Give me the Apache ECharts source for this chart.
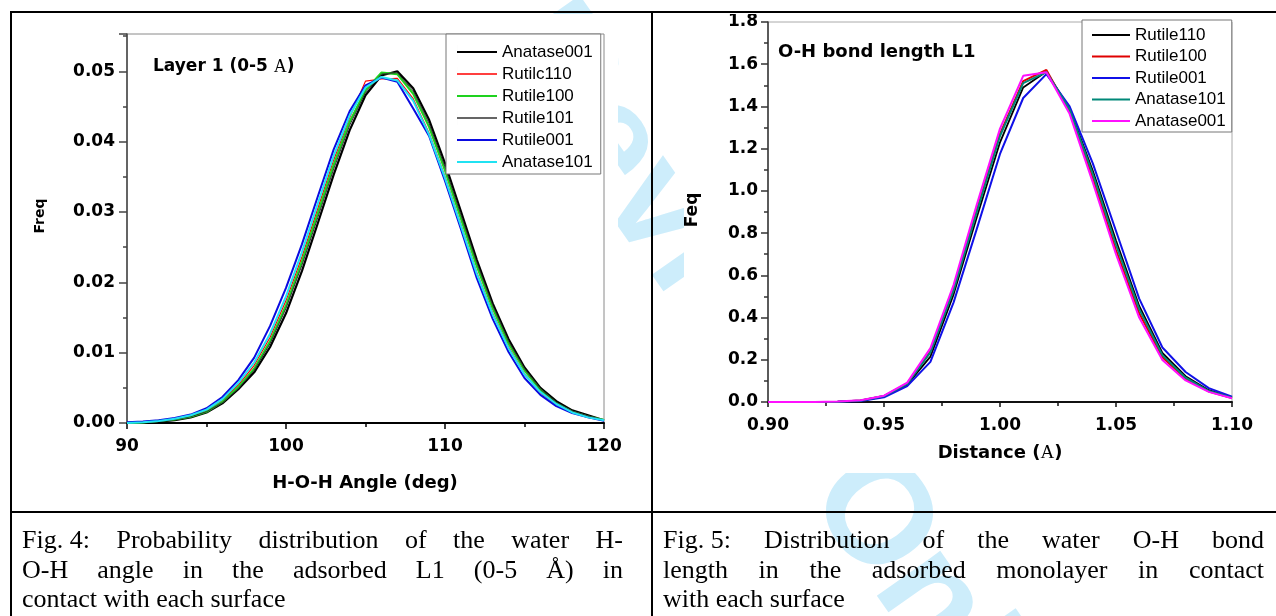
<!DOCTYPE html>
<html>
<head>
<meta charset="utf-8">
<script src="https://cdn.jsdelivr.net/npm/echarts@6/dist/echarts.min.js"></script>
<style>
  html, body { margin: 0; padding: 0; background: #fff; }
  #page { position: relative; width: 1276px; height: 616px; overflow: hidden; }
  #bg { position: absolute; left: 0; top: 0; width: 1276px; height: 616px; }
  /* white only where the pasted figure image was, the rest lets the watermark through */
  #fig4 { position: absolute; left: 13px; top: 14px; width: 617px; height: 497px;
    background: linear-gradient(to right, #fff 605px, transparent 605px); }
  #fig5 { position: absolute; left: 684px; top: 14px; width: 592px; height: 459px; background: #fff; }
  .caption { position: absolute; top: 525px; width: 601px; font-family: 'Liberation Serif', 'Times New Roman', serif; font-size: 26px; line-height: 29.5px; color: #000; }
  .caption div { white-space: nowrap; }
  .caption .just { text-align: justify; text-align-last: justify; }
  .caption .fig { display: inline-block; }
</style>
</head>
<body>
<div id="page">
  <div id="bg"></div>
  <div id="fig4"></div>
  <div id="fig5"></div>
  <div class="caption" style="left: 22px;">
    <div class="just"><span class="fig">Fig. 4:</span> Probability distribution of the water H-</div>
    <div class="just">O-H angle in the adsorbed L1 (0-5 Å) in</div>
    <div>contact with each surface</div>
  </div>
  <div class="caption" style="left: 663px;">
    <div class="just"><span class="fig">Fig. 5:</span> Distribution of the water O-H bond</div>
    <div class="just">length in the adsorbed monolayer in contact</div>
    <div>with each surface</div>
  </div>
</div>
<script>
// Fig. 4 - H-O-H angle (deg), one point per degree
const angleX = [90, 91, 92, 93, 94, 95, 96, 97, 98, 99, 100, 101, 102, 103, 104, 105,
  106, 107, 108, 109, 110, 111, 112, 113, 114, 115, 116, 117, 118, 119, 120]
const anatase001A = [0.0000, 0.0001, 0.0002, 0.0004, 0.0008, 0.0015, 0.0028, 0.0048, 0.0072, 0.0108, 0.0156,
  0.0216, 0.0284, 0.0353, 0.0416, 0.0466, 0.0494, 0.0500, 0.0476, 0.0431, 0.0369,
  0.0301, 0.0232, 0.0170, 0.0119, 0.0079, 0.0050, 0.0031, 0.0018, 0.0011, 0.0004]
const rutilc110A = [0.0000, 0.0001, 0.0003, 0.0005, 0.0010, 0.0018, 0.0032, 0.0054, 0.0082, 0.0122, 0.0174,
  0.0236, 0.0305, 0.0374, 0.0434, 0.0486, 0.0489, 0.0490, 0.0461, 0.0412, 0.0350,
  0.0282, 0.0214, 0.0156, 0.0108, 0.0070, 0.0043, 0.0026, 0.0015, 0.0008, 0.0004]
const rutile100A = [0.0000, 0.0001, 0.0003, 0.0005, 0.0009, 0.0016, 0.0030, 0.0051, 0.0077, 0.0116, 0.0167,
  0.0229, 0.0298, 0.0367, 0.0428, 0.0473, 0.0498, 0.0496, 0.0468, 0.0421, 0.0359,
  0.0291, 0.0223, 0.0163, 0.0113, 0.0075, 0.0047, 0.0028, 0.0016, 0.0009, 0.0004]
const rutile101A = [0.0000, 0.0001, 0.0002, 0.0005, 0.0009, 0.0016, 0.0029, 0.0049, 0.0075, 0.0113, 0.0163,
  0.0224, 0.0292, 0.0361, 0.0423, 0.0470, 0.0496, 0.0498, 0.0472, 0.0426, 0.0364,
  0.0296, 0.0228, 0.0167, 0.0116, 0.0077, 0.0048, 0.0029, 0.0017, 0.0010, 0.0004]
const rutile001A = [0.0001, 0.0002, 0.0004, 0.0007, 0.0012, 0.0021, 0.0037, 0.0061, 0.0093, 0.0138, 0.0192,
  0.0254, 0.0322, 0.0389, 0.0443, 0.0480, 0.0491, 0.0485, 0.0447, 0.0408, 0.0344,
  0.0276, 0.0206, 0.0148, 0.0101, 0.0064, 0.0040, 0.0024, 0.0014, 0.0008, 0.0003]
const anatase101A = [0.0000, 0.0001, 0.0003, 0.0006, 0.0011, 0.0019, 0.0034, 0.0057, 0.0086, 0.0127, 0.0180,
  0.0243, 0.0312, 0.0380, 0.0437, 0.0477, 0.0492, 0.0487, 0.0458, 0.0410, 0.0348,
  0.0280, 0.0212, 0.0154, 0.0106, 0.0069, 0.0044, 0.0027, 0.0015, 0.0008, 0.0004]

// Fig. 5 - O-H distance (A), one point per 0.01
const distX = [0.90, 0.91, 0.92, 0.93, 0.94, 0.95, 0.96, 0.97, 0.98, 0.99, 1.00,
  1.01, 1.02, 1.03, 1.04, 1.05, 1.06, 1.07, 1.08, 1.09, 1.10]
const rutile110D = [0, 0, 0, 0.001, 0.006, 0.026, 0.082, 0.215, 0.510, 0.875, 1.230,
  1.490, 1.565, 1.390, 1.095, 0.765, 0.455, 0.233, 0.122, 0.056, 0.022]
const rutile100D = [0, 0, 0, 0.001, 0.007, 0.028, 0.088, 0.240, 0.535, 0.910, 1.270,
  1.520, 1.573, 1.375, 1.060, 0.720, 0.420, 0.212, 0.110, 0.050, 0.019]
const rutile001D = [0, 0, 0, 0.001, 0.005, 0.022, 0.075, 0.190, 0.472, 0.820, 1.175,
  1.440, 1.553, 1.400, 1.130, 0.810, 0.490, 0.258, 0.142, 0.066, 0.025]
const anatase101D = [0, 0, 0, 0.001, 0.007, 0.028, 0.086, 0.235, 0.530, 0.900, 1.260,
  1.510, 1.563, 1.385, 1.080, 0.745, 0.440, 0.222, 0.115, 0.052, 0.020]
const anatase001D = [0, 0, 0, 0.002, 0.008, 0.030, 0.092, 0.255, 0.555, 0.935, 1.295,
  1.545, 1.562, 1.365, 1.040, 0.700, 0.400, 0.199, 0.102, 0.048, 0.018]

const tickFont = { fontFamily: 'DejaVu Sans', fontWeight: 'bold', fontSize: 17, color: '#000' }

// legend icons: plain line, the 0.01 wide sliver only keeps the box 14px tall
const iconThick = 'path://M0,0h0.01v14h-0.01zM0,5.9h40v2.2h-40z'
const iconThin = 'path://M0,0h0.01v14h-0.01zM0,6.3h40v1.4h-40z'

function initSeries(name, xs, ys, color, width) {
  return {
    name,
    type: 'line',
    data: xs.map((x, i) => [x, ys[i]]),
    symbol: 'none',
    color,
    lineStyle: { color, width },
    animation: false
  }
}

function valueAxis(min, max, interval, digits, lineColor, tickLen, margin) {
  return {
    type: 'value',
    min,
    max,
    interval,
    axisLine: { show: true, onZero: false, lineStyle: { color: lineColor, width: 2 } },
    axisTick: { show: true, inside: false, length: tickLen, lineStyle: { color: lineColor, width: 1.5 } },
    minorTick: { show: true, splitNumber: 2, length: 4, lineStyle: { color: lineColor, width: 1.5 } },
    axisLabel: Object.assign({ margin, formatter: v => v.toFixed(digits) }, tickFont),
    splitLine: { show: false }
  }
}

// background page: table rules + review watermark
const bg = echarts.init(document.getElementById('bg'))
bg.setOption({
  animation: false,
  graphic: [
    {
      type: 'text', x: 159, y: -500, rotation: -55 * Math.PI / 180, z: 0,
      style: { text: 'For Peer Review Only', fill: '#cdedfb', font: 'bold 147px "Liberation Sans"', align: 'left', verticalAlign: 'middle' }
    },
    { type: 'line', shape: { x1: 10, y1: 12, x2: 1276, y2: 12 }, style: { stroke: '#000', lineWidth: 2 }, z: 5 },
    { type: 'line', shape: { x1: 11, y1: 11, x2: 11, y2: 616 }, style: { stroke: '#000', lineWidth: 2 }, z: 5 },
    { type: 'line', shape: { x1: 652, y1: 11, x2: 652, y2: 616 }, style: { stroke: '#000', lineWidth: 2 }, z: 5 },
    { type: 'line', shape: { x1: 10, y1: 512, x2: 1276, y2: 512 }, style: { stroke: '#000', lineWidth: 2 }, z: 5 }
  ]
})

// Fig. 4
const chart4 = echarts.init(document.getElementById('fig4'))
const names4 = ['Anatase001', 'Rutilc110', 'Rutile100', 'Rutile101', 'Rutile001', 'Anatase101']
const xAxis4 = valueAxis(90, 120, 10, 0, '#000', 6, 15)
const yAxis4 = valueAxis(0, 0.0553, 0.01, 2, '#444', 8, 12)
yAxis4.axisLine.lineStyle.width = 1.5
yAxis4.axisLabel.showMaxLabel = false
chart4.setOption({
  animation: false,
  grid: {
    left: 114, top: 20, width: 477, height: 389,
    show: true, borderColor: '#8a8a8a', borderWidth: 1, backgroundColor: '#fff',
    outerBoundsMode: 'none'
  },
  legend: {
    orient: 'vertical',
    left: 433,
    top: 20,
    itemWidth: 40,
    itemHeight: 14,
    itemGap: 2,
    padding: [8, 8, 2, 11],
    backgroundColor: '#fff',
    borderColor: '#777',
    borderWidth: 1,
    itemStyle: { borderWidth: 0 },
    textStyle: { fontFamily: 'Liberation Sans', fontSize: 17, lineHeight: 20, color: '#000' },
    data: names4.map(name => ({ name, icon: name === 'Rutilc110' || name === 'Rutile101' ? iconThin : iconThick }))
  },
  xAxis: xAxis4,
  yAxis: yAxis4,
  graphic: [
    {
      type: 'text', x: 140, y: 53,
      style: {
        text: '{b|Layer 1 (0-5 }{s|A}{b|)}',
        verticalAlign: 'middle',
        rich: {
          b: { fontFamily: 'DejaVu Sans', fontWeight: 'bold', fontSize: 17, fill: '#000' },
          s: { fontFamily: 'Liberation Serif', fontSize: 18, fill: '#000' }
        }
      }
    },
    {
      type: 'text', x: 27, y: 202, rotation: Math.PI / 2,
      style: { text: 'Freq', align: 'center', verticalAlign: 'middle', font: 'bold 14px "DejaVu Sans"', fill: '#000' }
    },
    {
      type: 'text', x: 352, y: 469,
      style: { text: 'H-O-H Angle (deg)', align: 'center', verticalAlign: 'middle', font: 'bold 18px "DejaVu Sans"', fill: '#000' }
    }
  ],
  series: [
    initSeries('Anatase001', angleX, anatase001A, '#000000', 2.2),
    initSeries('Rutilc110', angleX, rutilc110A, '#ff0000', 1.2),
    initSeries('Rutile100', angleX, rutile100A, '#1ed21e', 2.2),
    initSeries('Rutile101', angleX, rutile101A, '#333333', 1),
    initSeries('Rutile001', angleX, rutile001A, '#0a0ae0', 2),
    initSeries('Anatase101', angleX, anatase101A, '#20e2f2', 2)
  ]
})

// Fig. 5
const chart5 = echarts.init(document.getElementById('fig5'))
const names5 = ['Rutile110', 'Rutile100', 'Rutile001', 'Anatase101', 'Anatase001']
const xAxis5 = valueAxis(0.9, 1.1, 0.05, 2, '#111', 5, 15)
const yAxis5 = valueAxis(0, 1.8, 0.2, 1, '#333', 7, 10)
yAxis5.axisLine.lineStyle.width = 1.5
chart5.setOption({
  animation: false,
  grid: {
    left: 84, top: 8, width: 464, height: 380,
    show: true, borderColor: '#aaaaaa', borderWidth: 1, backgroundColor: '#fff',
    outerBoundsMode: 'none'
  },
  legend: {
    orient: 'vertical',
    left: 398,
    top: 6,
    itemWidth: 38,
    itemHeight: 14,
    itemGap: 1.5,
    padding: [5, 6, 1, 10],
    backgroundColor: '#fff',
    borderColor: '#777',
    borderWidth: 1,
    itemStyle: { borderWidth: 0 },
    textStyle: { fontFamily: 'Liberation Sans', fontSize: 17, lineHeight: 20, color: '#000' },
    data: names5.map(name => ({ name, icon: iconThick }))
  },
  xAxis: xAxis5,
  yAxis: yAxis5,
  graphic: [
    {
      type: 'text', x: 94, y: 38,
      style: { text: 'O-H bond length L1', verticalAlign: 'middle', font: 'bold 18px "DejaVu Sans"', fill: '#000' }
    },
    {
      type: 'text', x: 9, y: 196, rotation: Math.PI / 2,
      style: { text: 'Feq', align: 'center', verticalAlign: 'middle', font: 'bold 17px "DejaVu Sans"', fill: '#000' }
    },
    {
      type: 'text', x: 316, y: 439,
      style: {
        text: '{b|Distance (}{s|A}{b|)}',
        align: 'center',
        verticalAlign: 'middle',
        rich: {
          b: { fontFamily: 'DejaVu Sans', fontWeight: 'bold', fontSize: 18, fill: '#000' },
          s: { fontFamily: 'Liberation Serif', fontSize: 19, fill: '#000' }
        }
      }
    }
  ],
  series: [
    initSeries('Rutile110', distX, rutile110D, '#000000', 1.8),
    initSeries('Rutile100', distX, rutile100D, '#e00000', 2),
    initSeries('Rutile001', distX, rutile001D, '#1010e8', 2),
    initSeries('Anatase101', distX, anatase101D, '#008878', 2),
    initSeries('Anatase001', distX, anatase001D, '#ff10ff', 2)
  ]
})
</script>
</body>
</html>
